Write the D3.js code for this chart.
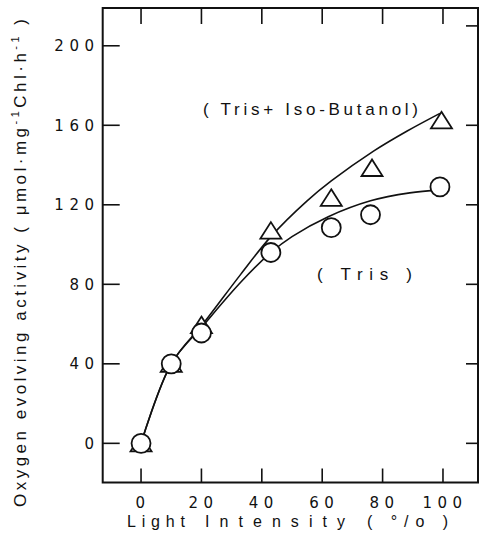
<!DOCTYPE html>
<html>
<head>
<meta charset="utf-8">
<script src="https://cdn.jsdelivr.net/npm/d3@7"></script>
<style>
  html, body { margin: 0; padding: 0; background: #fff; }
  svg { display: block; }
  text { font-family: "Liberation Sans", Arial, sans-serif; fill: #111; }
</style>
</head>
<body>
<svg id="chart" width="480" height="540"></svg>
<script>
// ---- data ----
const xTicks = [0, 20, 40, 60, 80, 100];
const yTicks = [0, 40, 80, 120, 160, 200];
const yTicksRight = [0, 40, 80, 120, 160, 210];

// Tris (circles)
const trisX = [0, 10, 20, 43, 63, 76, 99];
const trisY = [0, 40, 55.5, 96, 108.5, 115, 129];
// Tris + Iso-Butanol (triangles)
const butX = [0, 10, 20, 43, 63, 76.5, 99.5];
const butY = [0, 40, 59.5, 107, 123.5, 138.5, 162.5];

// hand-drawn fit curves
const trisFitX = [0, 10, 21, 33, 43, 50, 62, 76, 89, 99];
const trisFitY = [0, 40, 60, 81, 96, 104, 114, 122, 126, 127.5];
const butFitX = [0, 10, 21, 33, 43, 55, 63, 77, 88, 99];
const butFitY = [0, 40, 61, 85, 104, 122, 132, 147, 157, 166];

const xLabel = ["Light", "Intensity", "( °/o )"];
const labelBut = "( Tris+ Iso-Butanol)";
const labelTris = "( Tris )";

// ---- layout ----
const svg = d3.select("#chart");
const x = d3.scaleLinear().domain([-12.7, 111.6]).range([102.7, 478]);
const y = d3.scaleLinear().domain([-19.7, 219]).range([482.5, 8]);

const [x0, x1] = x.range();
const [y0, y1] = y.range();

// frame
svg.append("rect")
  .attr("x", x0).attr("y", y1)
  .attr("width", x1 - x0).attr("height", y0 - y1)
  .attr("fill", "none").attr("stroke", "#111").attr("stroke-width", 2);

// ticks
const tg = svg.append("g").attr("stroke", "#111").attr("stroke-width", 1.6);
tg.selectAll(".bt").data(xTicks).join("line")
  .attr("x1", d => x(d)).attr("x2", d => x(d))
  .attr("y1", y0).attr("y2", y0 - 14);
tg.selectAll(".tt").data(xTicks).join("line")
  .attr("x1", d => x(d)).attr("x2", d => x(d))
  .attr("y1", y1).attr("y2", y1 + 16);
tg.selectAll(".lt").data(yTicks).join("line")
  .attr("x1", x0).attr("x2", x0 + 17)
  .attr("y1", d => y(d)).attr("y2", d => y(d));
tg.selectAll(".rt").data(yTicksRight).join("line")
  .attr("x1", x1).attr("x2", x1 - 12)
  .attr("y1", d => y(d)).attr("y2", d => y(d));

// tick labels
const tickFont = "'DejaVu Sans', sans-serif";
svg.append("g").selectAll("text").data(yTicks).join("text")
  .attr("x", 99.5).attr("y", d => y(d)).attr("dy", "0.36em")
  .attr("text-anchor", "end").attr("font-size", 15)
  .style("font-family", tickFont)
  .attr("letter-spacing", 5.5)
  .text(d => d);
svg.append("g").selectAll("text").data(xTicks).join("text")
  .attr("x", d => x(d) + 2).attr("y", 508)
  .attr("text-anchor", "middle").attr("font-size", 15)
  .style("font-family", tickFont)
  .attr("letter-spacing", 5.5)
  .text(d => d);

// x title
const xt = svg.append("text").attr("y", 527).attr("font-size", 16);
const xPos = [127, 205, 367], xLen = [58, 140, 81];
xLabel.forEach((w, i) => {
  xt.append("tspan").attr("x", xPos[i])
    .attr("textLength", xLen[i]).attr("lengthAdjust", "spacing").text(w);
});

// y title
const yt = svg.append("text")
  .attr("transform", "translate(26,263) rotate(-90)")
  .attr("text-anchor", "middle").attr("font-size", 17)
  .attr("textLength", 488).attr("lengthAdjust", "spacing");
yt.append("tspan").text("Oxygen evolving activity ( μmol·mg");
yt.append("tspan").attr("font-size", 11).attr("dy", -7).text("-1");
yt.append("tspan").attr("dy", 7).text("Chl·h");
yt.append("tspan").attr("font-size", 11).attr("dy", -7).text("-1");
yt.append("tspan").attr("dy", 7).text(" )");

// fit curves
const line = d3.line().x(d => x(d[0])).y(d => y(d[1])).curve(d3.curveCatmullRom.alpha(0.5));
svg.append("path").datum(trisFitX.map((v, i) => [v, trisFitY[i]]))
  .attr("d", line).attr("fill", "none").attr("stroke", "#111").attr("stroke-width", 1.6);
svg.append("path").datum(butFitX.map((v, i) => [v, butFitY[i]]))
  .attr("d", line).attr("fill", "none").attr("stroke", "#111").attr("stroke-width", 1.6);

// triangles
const tri = "M0,-8.5L10.5,8L-10.5,8Z";
svg.append("g").selectAll("path").data(butX.map((v, i) => [v, butY[i]])).join("path")
  .attr("transform", d => `translate(${x(d[0])},${y(d[1])})`)
  .attr("d", tri).attr("fill", "#fff").attr("stroke", "#111").attr("stroke-width", 1.8)
  .attr("stroke-linejoin", "miter");

// circles
svg.append("g").selectAll("circle").data(trisX.map((v, i) => [v, trisY[i]])).join("circle")
  .attr("cx", d => x(d[0])).attr("cy", d => y(d[1])).attr("r", 9.5)
  .attr("fill", "#fff").attr("stroke", "#111").attr("stroke-width", 1.8);

// series labels
svg.append("text").attr("x", 203).attr("y", 115).attr("font-size", 17)
  .attr("textLength", 215).attr("lengthAdjust", "spacing").text(labelBut);
svg.append("text").attr("x", 317).attr("y", 280).attr("font-size", 17)
  .attr("textLength", 95).attr("lengthAdjust", "spacing").text(labelTris);
</script>
</body>
</html>
